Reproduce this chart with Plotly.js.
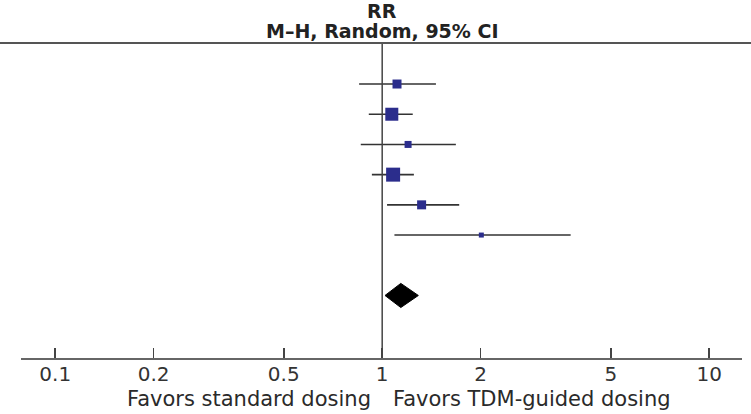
<!DOCTYPE html>
<html>
<head>
<meta charset="utf-8">
<script src="https://cdn.plot.ly/plotly-3.0.1.min.js"></script>
<style>html,body{margin:0;padding:0;background:#fff;}#chart{width:751px;height:414px;}</style>
</head>
<body>
<div id="chart"></div>
<script>
// Study rows (top to bottom)
const rowIndex = [1, 2, 3, 4, 5, 6];
const rr = [1.11, 1.07, 1.20, 1.08, 1.32, 2.01];
const ciLow = [0.85, 0.91, 0.86, 0.93, 1.035, 1.09];
const ciHigh = [1.46, 1.24, 1.68, 1.25, 1.72, 3.77];
const weightSize = [9, 13, 7, 14, 9, 5];
// Pooled estimate
const pooledRow = 8;
const pooledRR = 1.14;
const pooledLow = 1.02;
const pooledHigh = 1.29;
// Axis ticks
const tickValues = [0.1, 0.2, 0.5, 1, 2, 5, 10];
const tickLabels = ['0.1', '0.2', '0.5', '1', '2', '5', '10'];

const diamondHalf = 0.4;

const studies = {
  type: 'scatter', mode: 'markers',
  x: rr, y: rowIndex,
  marker: {symbol: 'square', size: weightSize, color: '#2b2d8c', opacity: 1, line: {width: 0}},
  error_x: {
    type: 'data', symmetric: false,
    array: rr.map((v, i) => ciHigh[i] - v),
    arrayminus: rr.map((v, i) => v - ciLow[i]),
    width: 0, thickness: 1.6, color: '#333'
  },
  hoverinfo: 'none', showlegend: false
};

const pooled = {
  type: 'scatter', mode: 'lines',
  x: [pooledLow, pooledRR, pooledHigh, pooledRR, pooledLow],
  y: [pooledRow, pooledRow - diamondHalf, pooledRow, pooledRow + diamondHalf, pooledRow],
  fill: 'toself', fillcolor: '#000', line: {color: '#000', width: 1},
  hoverinfo: 'none', showlegend: false
};

const fam = 'DejaVu Sans, Verdana, sans-serif';
const font = {family: fam, size: 21, color: '#2a2a2a'};

const layout = {
  width: 751, height: 414,
  margin: {l: 21, r: 9, t: 43, b: 56},
  paper_bgcolor: '#fff', plot_bgcolor: '#fff',
  font: font,
  xaxis: {
    type: 'log', range: [Math.log10(0.0786), Math.log10(12.6)],
    tickvals: tickValues, ticktext: tickLabels,
    ticks: 'inside', ticklen: 10, tickwidth: 1.5, tickcolor: '#444',
    showline: true, linecolor: '#666', linewidth: 2,
    showgrid: false, zeroline: false,
    tickfont: {family: fam, size: 20, color: '#333'},
    ticklabelstandoff: -3,
    fixedrange: true
  },
  yaxis: {
    range: [10.07, -0.358], visible: false, showgrid: false, zeroline: false, fixedrange: true
  },
  shapes: [
    {type: 'line', xref: 'x', yref: 'paper', x0: 1, x1: 1, y0: 0, y1: 1,
     line: {color: '#444', width: 1.5}},
    {type: 'line', xref: 'paper', yref: 'paper', x0: -0.03, x1: 1.02, y0: 1, y1: 1,
     line: {color: '#555', width: 2}}
  ],
  annotations: [
    {xref: 'x', yref: 'paper', x: 0, y: 1.1, text: '<b>RR</b>', showarrow: false,
     xanchor: 'center', yanchor: 'middle', font: {family: fam, size: 19, color: '#222'}},
    {xref: 'x', yref: 'paper', x: 0, y: 1.037, text: '<b>M–H, Random, 95% CI</b>', showarrow: false,
     xanchor: 'center', yanchor: 'middle', font: {family: fam, size: 19, color: '#222'}},
    {xref: 'x', yref: 'paper', x: 0, y: -0.13, text: 'Favors standard dosing', showarrow: false,
     xanchor: 'right', yanchor: 'middle', xshift: -9, font: font},
    {xref: 'x', yref: 'paper', x: 0, y: -0.13, text: 'Favors TDM-guided dosing', showarrow: false,
     xanchor: 'left', yanchor: 'middle', xshift: 9, font: font}
  ]
};

Plotly.newPlot('chart', [studies, pooled], layout, {displayModeBar: false, staticPlot: true});
</script>
</body>
</html>
